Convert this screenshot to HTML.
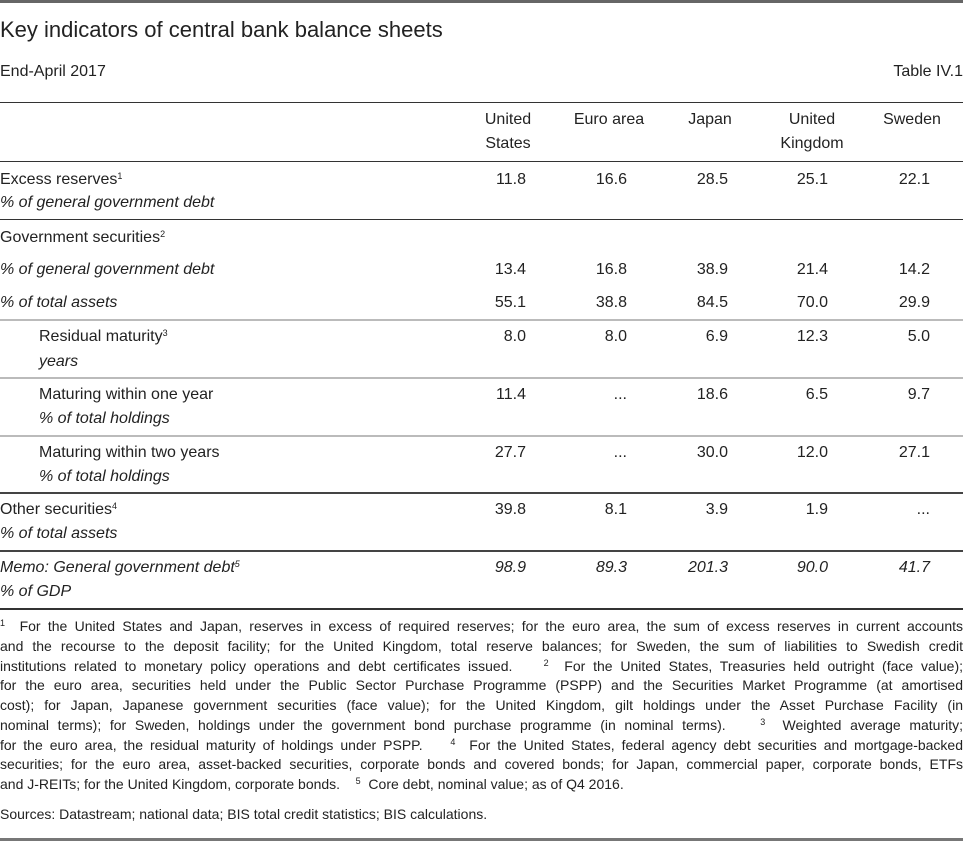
<!DOCTYPE html>
<html><head><meta charset="utf-8">
<style>
html,body{margin:0;padding:0;background:#fff;}
body{width:963px;height:844px;position:relative;overflow:hidden;font-family:"Liberation Sans",sans-serif;color:#222;}
.a{position:absolute;white-space:nowrap;font-size:16px;line-height:20px;}
.i{font-style:italic;}
.n{position:absolute;font-size:16px;line-height:20px;text-align:right;width:80px;}
.h{position:absolute;font-size:16px;line-height:24px;text-align:center;width:110px;}
.ln{position:absolute;left:0;width:963px;height:1px;background:#333;}
.lg{position:absolute;left:0;width:963px;height:2px;background:#bbb;}
sup{font-size:9px;vertical-align:top;line-height:12px;}
.f{position:absolute;left:0;width:963px;font-size:14px;line-height:19.75px;text-align:justify;text-align-last:justify;white-space:nowrap;}
.f.l{text-align-last:left;}
</style></head><body>
<div style="position:absolute;left:0;top:0;width:963px;height:3px;background:#666;"></div>
<div class="a" style="left:0;top:16px;font-size:22px;line-height:28px;">Key indicators of central bank balance sheets</div>
<div class="a" style="left:0;top:62px;">End-April 2017</div>
<div class="a" style="right:0;top:62px;">Table IV.1</div>
<div class="ln" style="top:102px;"></div>

<div class="h" style="left:453px;top:108px;">United<br>States</div>
<div class="h" style="left:554px;top:108px;">Euro area</div>
<div class="h" style="left:655px;top:108px;">Japan</div>
<div class="h" style="left:757px;top:108px;">United<br>Kingdom</div>
<div class="h" style="left:857px;top:108px;">Sweden</div>
<div class="ln" style="top:161px;"></div>

<div class="a" style="left:0;top:170px;">Excess reserves<sup>1</sup></div>
<div class="a i" style="left:0;top:193px;">% of general government debt</div>
<div class="ln" style="top:219px;"></div>
<div class="a" style="left:0;top:228px;">Government securities<sup>2</sup></div>
<div class="a i" style="left:0;top:260px;">% of general government debt</div>
<div class="a i" style="left:0;top:293px;">% of total assets</div>
<div class="lg" style="top:319px;"></div>
<div class="a" style="left:39px;top:327px;">Residual maturity<sup>3</sup></div>
<div class="a i" style="left:39px;top:352px;">years</div>
<div class="lg" style="top:377px;"></div>
<div class="a" style="left:39px;top:385px;">Maturing within one year</div>
<div class="a i" style="left:39px;top:409px;">% of total holdings</div>
<div class="lg" style="top:435px;"></div>
<div class="a" style="left:39px;top:443px;">Maturing within two years</div>
<div class="a i" style="left:39px;top:467px;">% of total holdings</div>
<div class="ln" style="top:492px;height:2px;background:#444;"></div>
<div class="a" style="left:0;top:500px;">Other securities<sup>4</sup></div>
<div class="a i" style="left:0;top:524px;">% of total assets</div>
<div class="ln" style="top:550px;height:2px;background:#444;"></div>
<div class="a i" style="left:0;top:558px;">Memo: General government debt<sup>5</sup></div>
<div class="a i" style="left:0;top:582px;">% of GDP</div>
<div class="ln" style="top:608px;height:2px;background:#333;"></div>

<div id="cells"></div>

<div class="f" style="top:617px;"><sup>1</sup>&nbsp; For the United States and Japan, reserves in excess of required reserves; for the euro area, the sum of excess reserves in current accounts</div>
<div class="f" style="top:636.75px;">and the recourse to the deposit facility; for the United Kingdom, total reserve balances; for Sweden, the sum of liabilities to Swedish credit</div>
<div class="f" style="top:656.5px;">institutions related to monetary policy operations and debt certificates issued. &nbsp;&nbsp; <sup>2</sup>&nbsp; For the United States, Treasuries held outright (face value);</div>
<div class="f" style="top:676.25px;">for the euro area, securities held under the Public Sector Purchase Programme (PSPP) and the Securities Market Programme (at amortised</div>
<div class="f" style="top:696px;">cost); for Japan, Japanese government securities (face value); for the United Kingdom, gilt holdings under the Asset Purchase Facility (in</div>
<div class="f" style="top:715.75px;">nominal terms); for Sweden, holdings under the government bond purchase programme (in nominal terms). &nbsp;&nbsp; <sup>3</sup>&nbsp; Weighted average maturity;</div>
<div class="f" style="top:735.5px;">for the euro area, the residual maturity of holdings under PSPP. &nbsp;&nbsp; <sup>4</sup>&nbsp; For the United States, federal agency debt securities and mortgage-backed</div>
<div class="f" style="top:755.25px;">securities; for the euro area, asset-backed securities, corporate bonds and covered bonds; for Japan, commercial paper, corporate bonds, ETFs</div>
<div class="f l" style="top:775px;">and J-REITs; for the United Kingdom, corporate bonds. &nbsp;&nbsp; <sup>5</sup>&nbsp; Core debt, nominal value; as of Q4 2016.</div>
<div class="f l" style="top:805px;">Sources: Datastream; national data; BIS total credit statistics; BIS calculations.</div>
<div style="position:absolute;left:0;top:838px;width:963px;height:3px;background:#777;"></div>

<script>
const countries = ["United States","Euro area","Japan","United Kingdom","Sweden"];
const excessReserves = ["11.8","16.6","28.5","25.1","22.1"];
const govSecDebt = ["13.4","16.8","38.9","21.4","14.2"];
const govSecAssets = ["55.1","38.8","84.5","70.0","29.9"];
const residualMaturity = ["8.0","8.0","6.9","12.3","5.0"];
const maturingOneYear = ["11.4","...","18.6","6.5","9.7"];
const maturingTwoYears = ["27.7","...","30.0","12.0","27.1"];
const otherSecurities = ["39.8","8.1","3.9","1.9","..."];
const memoDebt = ["98.9","89.3","201.3","90.0","41.7"];

const colRight = [526,627,728,828,930];
const rows = [
  {vals: excessReserves, top:170, name:'excess-reserves', it:false},
  {vals: govSecDebt, top:260, name:'gs-debt', it:false},
  {vals: govSecAssets, top:293, name:'gs-assets', it:false},
  {vals: residualMaturity, top:327, name:'residual-maturity', it:false},
  {vals: maturingOneYear, top:385, name:'maturing-one-year', it:false},
  {vals: maturingTwoYears, top:443, name:'maturing-two-years', it:false},
  {vals: otherSecurities, top:500, name:'other-securities', it:false},
  {vals: memoDebt, top:558, name:'memo-debt', it:true}
];
const host = document.getElementById('cells');
rows.forEach(r => {
  r.vals.forEach((v, c) => {
    const el = document.createElement('div');
    el.className = 'n' + (r.it ? ' i' : '');
    
    
    el.style.left = (colRight[c] - 80) + 'px';
    el.style.top = r.top + 'px';
    el.textContent = v;
    host.appendChild(el);
  });
});
</script>
</body></html>
